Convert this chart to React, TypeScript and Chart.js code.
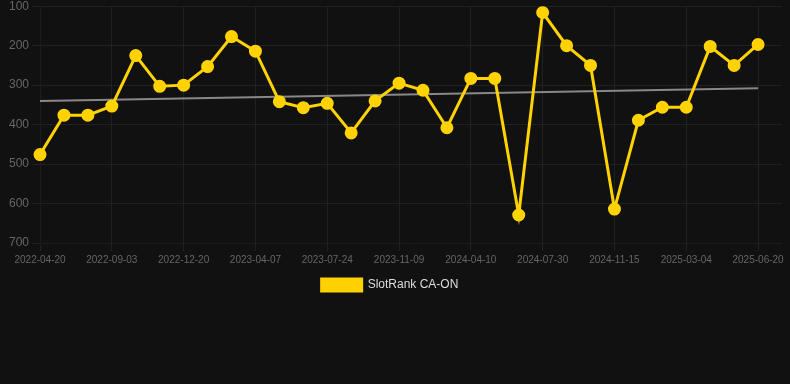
import React, { useEffect, useRef } from "react";
import { Chart, registerables } from "chart.js";

Chart.register(...registerables);

const categories: string[] = [
  "2022-04-20", "2022-06-05", "2022-07-20", "2022-09-03", "2022-10-09", "2022-11-14",
  "2022-12-20", "2023-01-25", "2023-03-02", "2023-04-07", "2023-05-13", "2023-06-18",
  "2023-07-24", "2023-08-29", "2023-10-04", "2023-11-09", "2023-12-30", "2024-02-19",
  "2024-04-10", "2024-05-16", "2024-06-23", "2024-07-30", "2024-09-05", "2024-10-10",
  "2024-11-15", "2024-12-21", "2025-01-27", "2025-03-04", "2025-04-09", "2025-05-15",
  "2025-06-20", "2025-07-26",
];

const rankValues: (number | null)[] = [
  476, 376, 376, 353, 225, 303, 300, 253, 177, 214, 342, 357, 346, 421, 340, 295,
  313, 408, 283, 283, 629, 116, 200, 250, 614, 389, 356, 356, 202, 250, 197, null,
];

const trendValues: (number | null)[] = [
  340, null, null, null, null, null, null, null, null, null, null, null, null, null, null, null,
  null, null, null, null, null, null, null, null, null, null, null, null, null, null, 308, null,
];

const yTicks: number[] = [100, 200, 300, 400, 500, 600, 700];

const legendShift = {
  id: "legendShift",
  afterLayout(chart: any) {
    const lg = chart.legend;
    if (lg) {
      lg.left -= 7;
      lg.right -= 7;
    }
  },
};

export default function App() {
  const ref = useRef<HTMLCanvasElement | null>(null);

  useEffect(() => {
    document.body.style.margin = "0";
    document.body.style.background = "#111111";
    if (!ref.current) return;
    const chart = new Chart(ref.current, {
      type: "line",
      data: {
        labels: categories,
        datasets: [
          {
            label: "SlotRank CA-ON",
            data: rankValues,
            borderColor: "#FFD200",
            backgroundColor: "#FFD200",
            pointBackgroundColor: "#FFD200",
            pointBorderColor: "#FFD200",
            borderWidth: 3,
            pointRadius: 5,
            tension: 0,
          },
          {
            label: "trend",
            data: trendValues,
            borderColor: "#888888",
            backgroundColor: "#888888",
            borderWidth: 2,
            pointRadius: 0,
            spanGaps: true,
          },
        ],
      },
      plugins: [legendShift],
      options: {
        animation: false,
        responsive: false,
        layout: { padding: { left: 6, right: 2 } },
        plugins: {
          tooltip: { enabled: false },
          legend: {
            position: "bottom",
            labels: {
              color: "#dddddd",
              font: { size: 12, family: "Liberation Sans, Arial" },
              boxWidth: 40,
              boxHeight: 12,
              filter: (item) => item.text !== "trend",
            },
          },
        },
        scales: {
          x: {
            grid: {
              color: (ctx) => (ctx.index % 3 === 0 ? "#202020" : "rgba(0,0,0,0)"),
            },
            ticks: {
              color: "#666666",
              font: { size: 10, family: "Liberation Sans, Arial" },
              autoSkip: false,
              maxRotation: 0,
              callback: (_v, i) => (i % 3 === 0 ? categories[i] : ""),
            },
          },
          y: {
            reverse: true,
            min: 100,
            max: 700,
            grid: { color: "#202020" },
            afterBuildTicks: (axis) => {
              axis.ticks = yTicks.map((v) => ({ value: v }));
            },
            ticks: {
              color: "#666666",
              font: { size: 12, family: "Liberation Sans, Arial" },
            },
          },
        },
      },
    });
    return () => chart.destroy();
  }, []);

  return (
    <div style={{ overflow: "hidden", height: 384 }}>
      <canvas ref={ref} width={790} height={305} style={{ display: "block", marginTop: -4 }} />
    </div>
  );
}
